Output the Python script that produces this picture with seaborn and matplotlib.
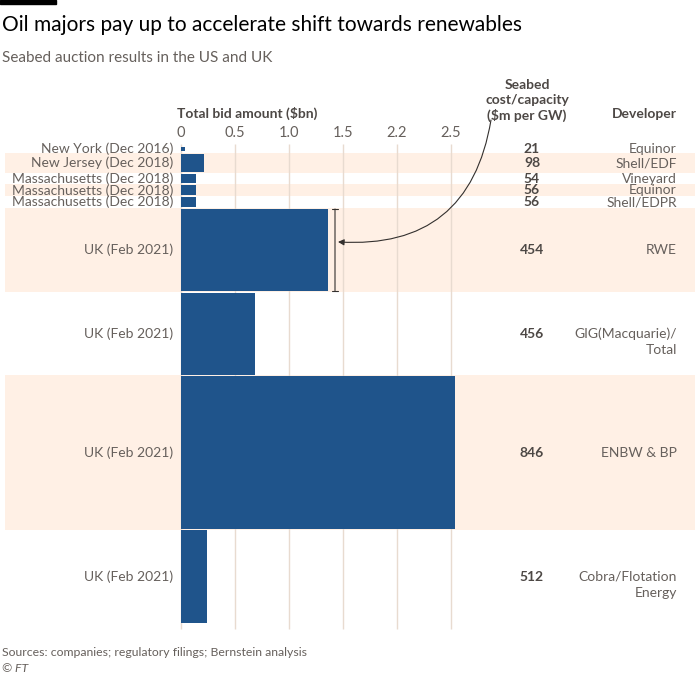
import numpy as np
import pandas as pd
import matplotlib.pyplot as plt
import seaborn as sns

# data
labels = ['New York (Dec 2016)', 'New Jersey (Dec 2018)',
          'Massachusetts (Dec 2018)', 'Massachusetts (Dec 2018)',
          'Massachusetts (Dec 2018)', 'UK (Feb 2021)', 'UK (Feb 2021)',
          'UK (Feb 2021)', 'UK (Feb 2021)']
bid_bn = [0.04, 0.21, 0.135, 0.135, 0.135, 1.36, 0.685, 2.54, 0.245]
cost_per_gw = [21, 98, 54, 56, 56, 454, 456, 846, 512]
developers = ['Equinor', 'Shell/EDF', 'Vineyard', 'Equinor', 'Shell/EDPR', 'RWE',
              'GIG(Macquarie)/\nTotal', 'ENBW & BP', 'Cobra/Flotation\nEnergy']
tick_vals = [0, 0.5, 1.0, 1.5, 2.0, 2.5]
tick_labels = ['0', '0.5', '1.0', '1.5', '2.2', '2.5']

BLUE = '#1f548b'
BAND = '#fff0e5'
GRID = '#e8dbd0'
GREY = '#66605c'
DARK = '#4d4845'

# bar thickness follows cost/capacity; small rows get a minimum slot
MIN_SLOT = 42
GAP = 10
Y_SCALE = 0.18        # px per $m/GW unit
X0, X_SCALE = 181, 108  # px of zero, px per $bn
W, H = 700, 680


def xd(px):
    return (px - X0) / X_SCALE


sns.set_style('white')
plt.rcParams['font.family'] = ['Lato', 'DejaVu Sans']

df = pd.DataFrame({'label': labels, 'bid': bid_bn, 'cost': cost_per_gw,
                   'developer': developers})
df['slot'] = np.maximum(df['cost'], MIN_SLOT) + GAP
df['top'] = df['slot'].cumsum() - df['slot']
df['mid'] = df['top'] + df['slot'] / 2
df['bar_lo'] = df['mid'] - df['cost'] / 2
df['bar_hi'] = df['mid'] + df['cost'] / 2
edges = np.column_stack([df['bar_lo'], df['bar_hi']]).ravel().tolist()
total = df['slot'].sum()

fig = plt.figure(figsize=(W / 100, H / 100), dpi=100)
ax_top, ax_h = 144, 486
ax = fig.add_axes([5 / W, 1 - (ax_top + ax_h) / H, 690 / W, ax_h / H])

for i, r in df.iterrows():
    if i % 2 == 1:
        ax.axhspan(r['top'], r['top'] + r['slot'], color=BAND, lw=0, zorder=0)
ax.vlines(tick_vals, 0, total + 33, color=GRID, lw=1, zorder=1)

sns.histplot(data=df, y='mid', weights='bid', bins=edges, color=BLUE,
             alpha=1, linewidth=0, zorder=2, ax=ax)

ax.set(xlabel='', ylabel='')
ax.set_ylim(ax_h / Y_SCALE, 0)
ax.set_xlim(xd(5), xd(695))
ax.set_xticks(tick_vals, tick_labels)
ax.xaxis.tick_top()
ax.tick_params(axis='x', length=0, pad=3, labelsize=10.5, labelcolor=GREY)
ax.set_yticks([])
sns.despine(ax=ax, left=True, bottom=True)

for i, r in df.iterrows():
    ax.text(xd(173), r['mid'], r['label'], ha='right', va='center',
            fontsize=10, color=GREY)
    ax.text(xd(532), r['mid'], str(r['cost']), ha='center', va='center',
            fontsize=10, fontweight='bold', color=DARK)
    for j, line in enumerate(r['developer'].split('\n')):
        ax.annotate(line, xy=(xd(677), r['mid']), xytext=(0, -11.5 * j),
                    textcoords='offset points', ha='right', va='center',
                    fontsize=10, color=GREY)

# bracket + arrow on the RWE bar
rwe = df.iloc[5]
ax.annotate('', xy=(xd(335), rwe['bar_lo']), xytext=(xd(335), rwe['bar_hi']),
            arrowprops=dict(arrowstyle='|-|,widthA=0.2,widthB=0.2', lw=0.8,
                            color='#33302e', shrinkA=0, shrinkB=0))
ax.annotate('', xy=(xd(338), rwe['mid'] - 44), xytext=(xd(491), (120 - ax_top) / Y_SCALE),
            arrowprops=dict(arrowstyle='-|>,head_length=0.35,head_width=0.18',
                            connectionstyle='arc3,rad=-0.45', lw=0.8,
                            color='#33302e', shrinkA=0, shrinkB=0),
            annotation_clip=False)

# headers
fig.text(177 / W, 1 - 113 / H, 'Total bid amount ($bn)', ha='left', va='center',
         fontsize=10, fontweight='bold', color=DARK)
fig.text(527 / W, 1 - 122 / H, 'Seabed\ncost/capacity\n($m per GW)', ha='center',
         va='bottom', fontsize=10, fontweight='bold', color=DARK, linespacing=1.3)
fig.text(677 / W, 1 - 114 / H, 'Developer', ha='right', va='center',
         fontsize=10, fontweight='bold', color=DARK)

fig.text(2 / W, 1 - 25 / H, 'Oil majors pay up to accelerate shift towards renewables',
         fontsize=15, va='center', color='black')
fig.text(2 / W, 1 - 58 / H, 'Seabed auction results in the US and UK',
         fontsize=11, va='center', color=GREY)
fig.text(2 / W, 1 - 653 / H, 'Sources: companies; regulatory filings; Bernstein analysis',
         fontsize=8.8, va='center', color=GREY)
fig.text(2 / W, 1 - 669 / H, '© FT', fontsize=8.8, va='center', color=GREY,
         style='italic')
fig.add_artist(plt.Rectangle((0, 1 - 4 / H), 56 / W, 4 / H,
                             transform=fig.transFigure, color='black'))

fig.savefig('out.png', dpi=100, facecolor='white')
